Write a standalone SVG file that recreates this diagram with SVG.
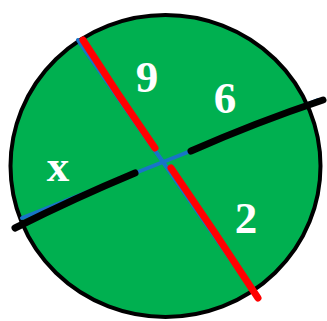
<svg xmlns="http://www.w3.org/2000/svg" width="327" height="321" viewBox="0 0 327 321">
<style>
.lbl{font-family:"Liberation Serif","Times New Roman",serif;font-weight:bold;fill:#fff;text-anchor:middle;font-size:45px}
.blue{stroke:#1874c8;stroke-width:4;fill:none;stroke-linecap:round}
.red{stroke:#ff0000;stroke-width:7;fill:none;stroke-linecap:round}
.blk{stroke:#000;stroke-width:7;fill:none;stroke-linecap:round}
</style>
<g id="circle"><ellipse cx="165.5" cy="166" rx="155" ry="151" fill="#00b050" stroke="#000" stroke-width="4"/></g>
<g id="connectors">
<path class="blue" d="M78 40 L163 162 L257 297"/>
<path class="blue" d="M22 218 L163 162 L318 100"/>
<path class="red" d="M83 40 Q118 95 155 148"/>
<path class="red" d="M171 168 Q215 232 258 298"/>
<path class="blk" d="M15 228 Q75 198 135 173"/>
<path class="blk" d="M191 151 Q257 122 323 100"/>
</g>
<g id="labels">
<text class="lbl" x="147" y="92">9</text>
<text class="lbl" x="225" y="113">6</text>
<text class="lbl" x="58" y="181">x</text>
<text class="lbl" x="246" y="233">2</text>
</g>
</svg>
